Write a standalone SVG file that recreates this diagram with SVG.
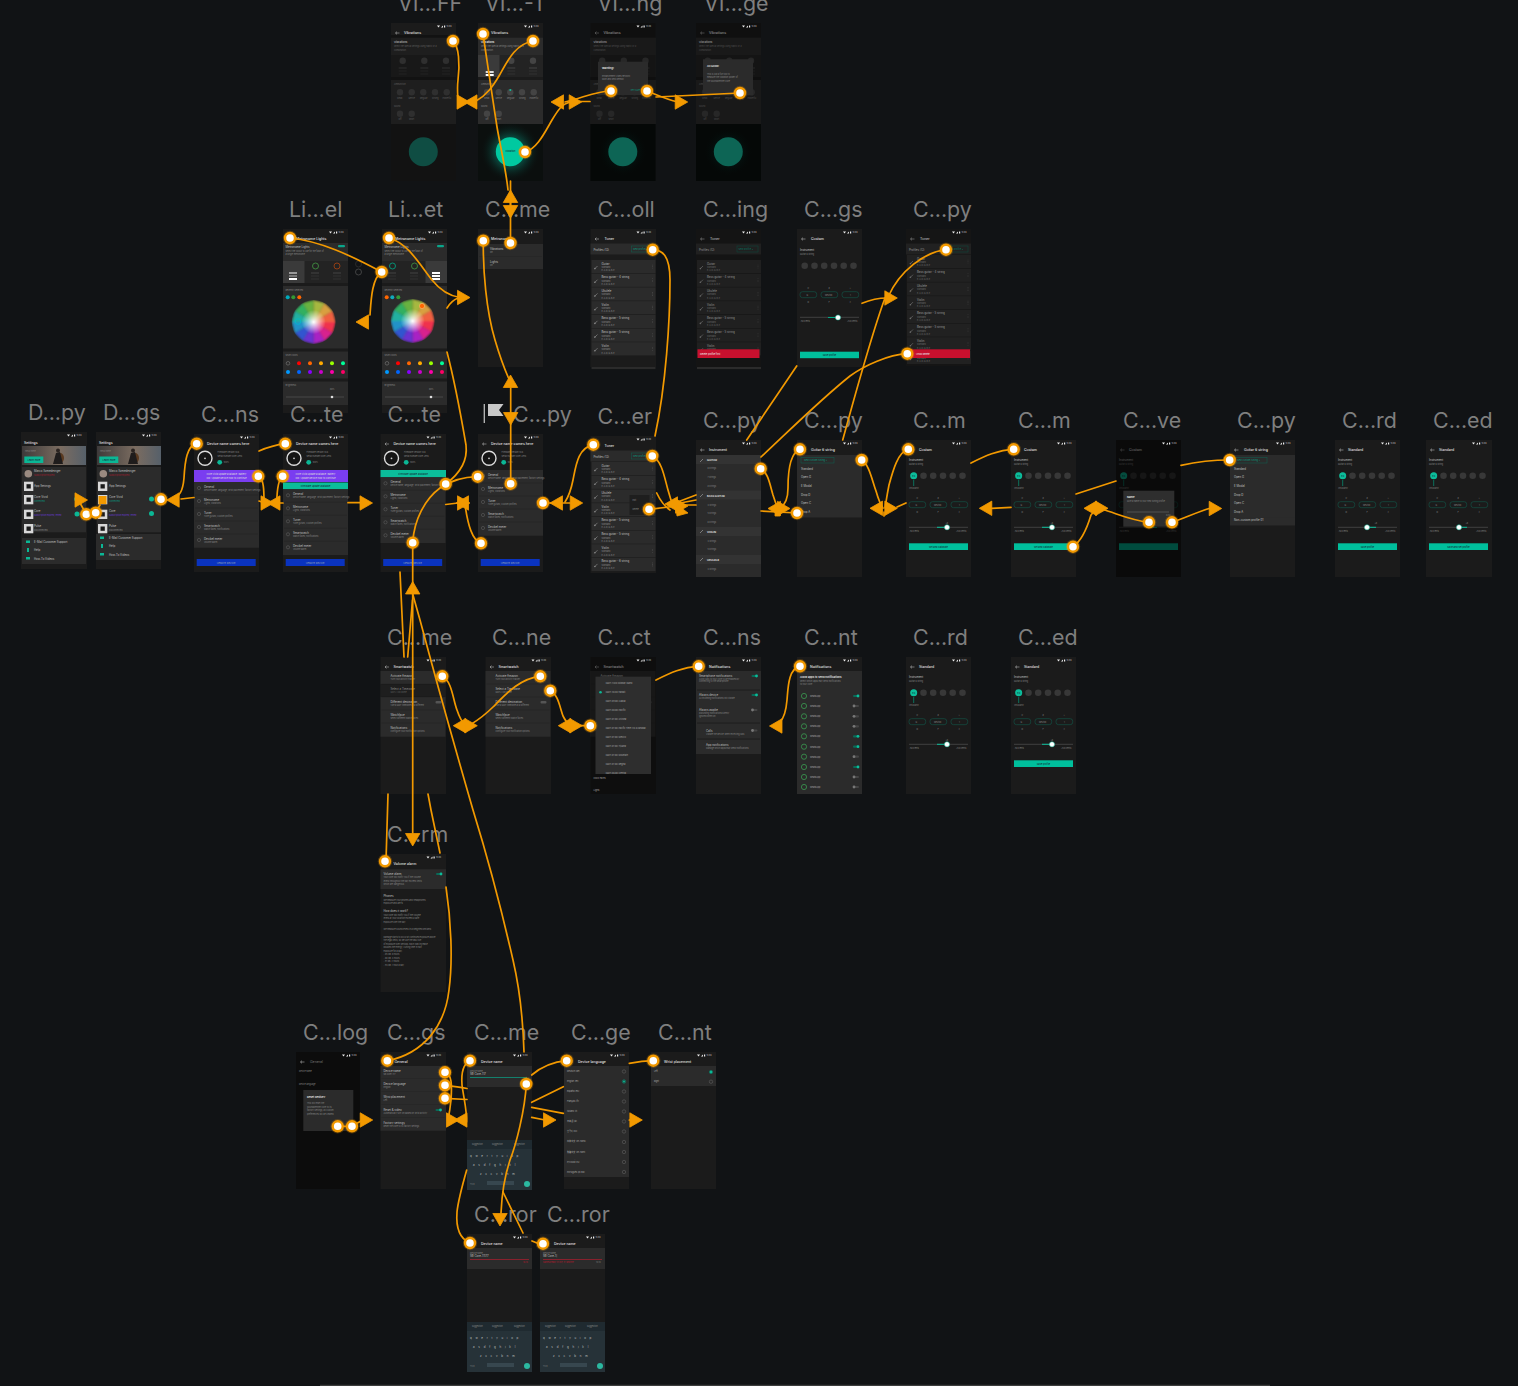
<svg xmlns="http://www.w3.org/2000/svg" width="1518" height="1386" viewBox="0 0 1518 1386">
<style>
text{font-family:Inter,"Liberation Sans","Noto Sans CJK SC",sans-serif}
.l{font-size:21.4px;fill:#7f7f7f}
.f{fill:#1b1b1b}.p{fill:#2b2b2b}.q{fill:#232323}
.t{font-size:3.5px;fill:#e2e2e2;font-weight:500}
.s{font-size:2.8px;fill:#c0c0c0}
.u{font-size:2.1px;fill:#858585}
.w{font-size:2.7px;fill:#eee;font-weight:600}
.b{font-size:2.4px;fill:#123;text-anchor:middle}
.bl{font-size:2.4px;fill:#9ab;text-anchor:middle}
.x{font-size:2px;fill:#ddd}
.c{fill:none;stroke:#f29900;stroke-width:1.7;stroke-linecap:round;stroke-linejoin:round}
.a{fill:#f29900;stroke:#f29900;stroke-width:.8;stroke-linejoin:round}
.d{fill:#fff;stroke:#f29900;stroke-width:2.4}
.h{fill:#f29900;opacity:.25}
.ln{stroke:#666;stroke-width:.5;fill:none}
.pill{fill:none;stroke:#11594b;stroke-width:.6}
.gc{fill:#444}
#tune .gc,#tune .gc circle{fill:#383838}
#c-ct .u,#c-ge .u,#c-nt2 .u,#ma .u{fill:#aaa}
.tog{fill:#0aa58a}.togo{fill:#555}
</style>
<defs>
<radialGradient id="wg"><stop offset="0" stop-color="#fff"/><stop offset=".55" stop-color="#fff" stop-opacity="0"/></radialGradient>
<radialGradient id="glow"><stop offset="0" stop-color="#0dcaa6" stop-opacity=".8"/><stop offset=".55" stop-color="#0a5d50" stop-opacity=".55"/><stop offset="1" stop-color="#0a0f0e" stop-opacity="0"/></radialGradient>
<radialGradient id="dglow"><stop offset="0" stop-color="#0a5d50" stop-opacity=".5"/><stop offset="1" stop-color="#000" stop-opacity="0"/></radialGradient>
<linearGradient id="ph" x1="0" x2="1"><stop offset="0" stop-color="#3d3a3a"/><stop offset=".6" stop-color="#7b6c60"/><stop offset="1" stop-color="#56606a"/></linearGradient>
<filter id="bl" x="-10%" y="-10%" width="120%" height="120%"><feGaussianBlur stdDeviation="1.2"/></filter>
<clipPath id="wc"><circle r="22"/></clipPath>
<polygon id="ar" class="a" points="0,0 -12.5,-7.2 -12.5,7.2"/>
<polygon id="al" class="a" points="0,0 12.5,-7.2 12.5,7.2"/>
<polygon id="au" class="a" points="0,0 -7.2,12.5 7.2,12.5"/>
<polygon id="ad" class="a" points="0,0 -7.2,-12.5 7.2,-12.5"/>
<g id="dt"><circle r="7.2" class="h"/><circle r="5" class="d"/></g>
<g id="st"><path d="M46 2.6h3l-1.5 2z M50 4.6l2-2v2z M53 2.4h1.2v2.2H53z" fill="#eee"/><text x="55.5" y="4.4" class="x">12:34</text></g>
<path id="bk" d="M4.5 10h4M4.5 10l1.5-1.4M4.5 10l1.5 1.4" fill="none" stroke="#ccc" stroke-width=".5"/>
<g id="wheel"><g clip-path="url(#wc)"><g filter="url(#bl)">
<path d="M0 0L22 0 19 11z" fill="#f0304e"/><path d="M0 0L19 11 11 19z" fill="#d8208e"/><path d="M0 0L11 19 0 22z" fill="#a824c4"/><path d="M0 0L0 22-11 19z" fill="#6a32d0"/><path d="M0 0L-11 19-19 11z" fill="#3354d0"/><path d="M0 0L-19 11-22 0z" fill="#2492c8"/><path d="M0 0L-22 0-19-11z" fill="#20b0a0"/><path d="M0 0L-19-11-11-19z" fill="#30b060"/><path d="M0 0L-11-19 0-22z" fill="#68b240"/><path d="M0 0L0-22 11-19z" fill="#a6b840"/><path d="M0 0L11-19 19-11z" fill="#d8a040"/><path d="M0 0L19-11 22 0z" fill="#f06040"/>
</g><circle r="22" fill="url(#wg)"/></g></g>
<g id="colors"><circle cx="0" cy="0" r="1.8" fill="none" stroke="#888" stroke-width=".5"/><circle cx="11" r="2" fill="#f00"/><circle cx="22" r="2" fill="#f60"/><circle cx="33" r="2" fill="#fa0"/><circle cx="44" r="2" fill="#9f0"/><circle cx="55" r="2" fill="#0f9"/><circle cy="8.7" r="2" fill="#09f"/><circle cx="11" cy="8.7" r="2" fill="#06f"/><circle cx="22" cy="8.7" r="2" fill="#80f"/><circle cx="33" cy="8.7" r="2" fill="#c0c"/><circle cx="44" cy="8.7" r="2" fill="#f0a"/><circle cx="55" cy="8.7" r="2" fill="#f06"/></g>
<g id="stack"><rect width="8" height="2" fill="#333"/><rect y="3" width="8" height="2" fill="#2a2a2a"/><rect y="6" width="8" height="2" fill="#2a2a2a"/></g>
<g id="lights"><rect x="0" y="14" width="65" height="18" class="p"/><text x="2.5" y="18.5" class="s">Metronome Lights</text><text x="2.5" y="23" class="u">Select the colour to use for the flash of</text><text x="2.5" y="26" class="u">a single metronome</text><rect x="55" y="16" width="7" height="2.2" rx="1" class="tog"/><rect y="32" width="65" height="22" class="q"/><g fill="none" stroke-width=".8"><circle cx="10.5" cy="37" r="3" stroke="#0a8"/><circle cx="32.5" cy="37" r="3" stroke="#494"/><circle cx="54" cy="37" r="3" stroke="#a41"/></g><use href="#stack" x="28" y="43"/><use href="#stack" x="50" y="43"/><use href="#stack" x="6" y="43"/><rect y="57" width="65" height="62.5" class="p"/><text x="2.5" y="62" class="u">Recently selected</text><rect y="122.5" width="65" height="27" class="p"/><text x="2.5" y="127" class="u">Shuel colors</text><use href="#colors" x="5" y="134.3"/><rect y="152.5" width="65" height="23.5" class="p"/><text x="2.5" y="157" class="u">Brightness</text><text x="47" y="161" class="u">80%</text><path d="M3 168H61" class="ln"/><circle cx="49" cy="168" r="1.3" fill="#ddd"/><text x="13" y="11" class="t">Metronome Lights</text></g>
<g id="vib"><use href="#bk"/><text x="13" y="11" class="t">Vibrations</text><rect y="14.7" width="65" height="17.3" class="p"/><text x="3" y="19.5" class="w">Vibrations</text><text x="3" y="24" class="u">Select the special settings using haptic or a</text><text x="3" y="27.5" class="u">combination.</text><rect y="32" width="65" height="22" class="q"/><circle cx="11.7" cy="37.7" r="3.2" class="gc"/><circle cx="33.3" cy="37.7" r="3.2" class="gc"/><circle cx="55" cy="37.7" r="3.2" class="gc"/><use href="#stack" x="7.7" y="44"/><use href="#stack" x="29.3" y="44"/><use href="#stack" x="51" y="44"/><rect y="57" width="65" height="44" class="p"/><text x="3" y="62" class="u">Ammunition</text><g class="gc"><circle cx="9" cy="69.3" r="3.2"/><circle cx="20.7" cy="69.3" r="3.2"/><circle cx="32.3" cy="69.3" r="3.2"/><circle cx="44" cy="69.3" r="3.2"/><circle cx="55.7" cy="69.3" r="3.2"/><circle cx="9" cy="90.7" r="3.2"/><circle cx="20.7" cy="90.7" r="3.2"/></g><text x="6" y="75.5" class="u">Weak</text><text x="17.5" y="75.5" class="u">Gentle</text><text x="29" y="75.5" class="u">Regular</text><text x="41" y="75.5" class="u">Strong</text><text x="51.5" y="75.5" class="u">Powerful</text><text x="3" y="84" class="u">Sound</text><text x="7.5" y="97" class="u">Off</text><text x="18" y="97" class="u">Short</text></g>
<g id="devtop"><use href="#bk"/><text x="13" y="11" class="t">Device name comes here</text><circle cx="11" cy="24.3" r="7" fill="#151515" stroke="#ddd" stroke-width="1.4"/><circle cx="11" cy="24.3" r=".9" fill="#ccc"/><text x="23.5" y="19" class="u">Firmware version 10.6</text><text x="23.5" y="22.5" class="u">Serial number Core-Lens</text><circle cx="25.7" cy="28.3" r="2.4" fill="#0bb795"/><text x="29.5" y="29" class="u">100%</text><rect x="2.7" y="125" width="59" height="7" fill="#0a33bf"/><text x="32" y="129.5" class="bl">UPDATE DEVICE</text></g>
<g id="devrows"><rect width="65" height="65.7" class="p"/><text x="10" y="5.5" class="s">General</text><text x="10" y="18.5" class="s">Metronome</text><text x="10" y="31.5" class="s">Tuner</text><text x="10" y="44.5" class="s">Smartwatch</text><text x="10" y="57.5" class="s">Decibel meter</text><text x="10" y="8.5" class="u">Device name, language, wrist placement, factory settings</text><text x="10" y="21.5" class="u">Lights, vibrations</text><text x="10" y="34.5" class="u">Tune guitars, custom profiles</text><text x="10" y="47.5" class="u">Watch faces, notifications</text><text x="10" y="60.5" class="u">Volume alarm</text><g fill="none" stroke="#666" stroke-width=".5"><circle cx="5" cy="6" r="1.6"/><circle cx="5" cy="19" r="1.6"/><circle cx="5" cy="32" r="1.6"/><circle cx="5" cy="45" r="1.6"/><circle cx="5" cy="58" r="1.6"/></g><path d="M1 13H64M1 26H64M1 39H64M1 52H64" stroke="#222" stroke-width=".4"/></g>
<g id="tr"><rect x="1" width="64" height="13.2" class="p"/><path d="M4 9l3-3" stroke="#888" stroke-width=".7"/><circle cx="4.4" cy="8.6" r=".8" fill="#888"/><circle cx="62" cy="5" r=".3" fill="#777"/><circle cx="62" cy="6.5" r=".3" fill="#777"/><circle cx="62" cy="8" r=".3" fill="#777"/><text x="11" y="8" class="u">Standard</text><text x="11" y="11.4" class="u">E-A-D-G-B-E</text></g>
<g id="tl"><use href="#tr"/><text x="11" y="4.5" class="s">Guitar</text><use href="#tr" y="13.7"/><text x="11" y="18.2" class="s">Bass guitar - 4 string</text><use href="#tr" y="27.4"/><text x="11" y="31.9" class="s">Ukulele</text><use href="#tr" y="41.1"/><text x="11" y="45.6" class="s">Violin</text><use href="#tr" y="54.8"/><text x="11" y="59.3" class="s">Bass guitar - 5 string</text><use href="#tr" y="68.5"/><text x="11" y="73" class="s">Bass guitar - 5 string</text><use href="#tr" y="82.2"/><text x="11" y="86.7" class="s">Violin</text><use href="#tr" y="95.9"/><text x="11" y="100.4" class="s">Bass guitar - 6 string</text></g>
<g id="ttop"><use href="#bk"/><text x="14" y="11" class="t">Tuner</text><rect y="14.5" width="65" height="11" class="p"/><text x="3" y="21.5" class="s">Profiles (12)</text><rect x="41" y="17" width="21" height="6" class="pill"/><text x="42.5" y="20.8" style="font-size:2.3px;fill:#0a9a80">New profile ▾</text></g>
<g id="tune"><text x="3" y="20.7" class="s">Instrument</text><text x="3" y="24.5" class="u">Guitar 6 string</text><g class="gc"><circle cx="7.7" cy="35.7" r="3.3"/><circle cx="17.5" cy="35.7" r="3.3"/><circle cx="27.2" cy="35.7" r="3.3"/><circle cx="37" cy="35.7" r="3.3"/><circle cx="46.7" cy="35.7" r="3.3"/><circle cx="56.5" cy="35.7" r="3.3"/></g><rect x="3" y="61.7" width="16.7" height="6" rx="2.5" class="pill"/><rect x="24" y="61.7" width="16.7" height="6" rx="2.5" class="pill"/><rect x="45" y="61.7" width="16.7" height="6" rx="2.5" class="pill"/><text x="9.5" y="65.6" class="u">G</text><text x="28" y="65.6" class="u">Neutral</text><text x="53" y="65.6" class="u">1</text><text x="10.5" y="58.5" class="u">C</text><text x="31.5" y="58.5" class="u">#</text><text x="52.5" y="58.5" class="u">+</text><text x="10.5" y="73" class="u">D</text><text x="31.5" y="73" class="u">F</text><text x="52.5" y="73" class="u">2</text><path d="M3 87.3H62" class="ln"/><text x="3" y="91.5" class="u">-50 Cents</text><text x="50" y="91.5" class="u">+50 Cents</text></g>
<g id="sel"><circle cx="7.7" cy="35.7" r="3.5" fill="#0bbd9a"/><text x="7.7" y="36.5" class="b">E4</text><path d="M7.7 40V46" stroke="#0a8" stroke-width=".6"/><text x="3" y="49.3" class="u">294.66Hz</text><rect x="31" y="86.8" width="10" height="1" fill="#0bbd9a"/><text x="39.5" y="84" class="u">+8</text></g>
<g id="knob"><circle r="2.6" fill="#fff" stroke="#0a8" stroke-width=".5"/></g>
<g id="glist"><rect y="15" width="65" height="62.5" class="p"/><rect x="4" y="17.5" width="33" height="5.5" class="pill"/><text x="7" y="21.2" style="font-size:2.3px;fill:#0a9a80">New custom tuning +</text><text x="4" y="29.5" class="s">Standard</text><text x="4" y="38" class="s">Open G</text><text x="4" y="46.8" class="s">E Modal</text><text x="4" y="55.5" class="s">Drop D</text><text x="4" y="64" class="s">Open C</text><text x="4" y="72.5" class="s">Drop A</text><text x="14" y="11" class="t">Guitar 6 string</text><use href="#bk"/></g>
<g id="sw"><use href="#bk"/><text x="13" y="11" class="t">Smartwatch</text><rect y="14" width="65" height="65.7" class="p"/><text x="10" y="19.5" class="s">Activate Amazon</text><text x="10" y="22.5" class="u">Turn your activity tracker</text><text x="10" y="32.5" class="s">Select a Timezone</text><text x="10" y="35.5" class="u">GMT+1:00 Rome</text><text x="10" y="45.5" class="s">Different destination</text><text x="10" y="48.5" class="u">Use a GMT timezone at a different</text><text x="10" y="58.5" class="s">Watchface</text><text x="10" y="61.5" class="u">Select different watch faces</text><text x="10" y="71.5" class="s">Notifications</text><text x="10" y="74.5" class="u">Configure your notification options</text><rect x="55" y="44" width="6" height="2.4" rx="1" class="togo"/><path d="M1 27H64M1 40H64M1 53H64M1 66H64" stroke="#222" stroke-width=".4"/></g>
<g id="ma"><circle cx="7" r="2.6" fill="none" stroke="#3a9a50" stroke-width=".8"/><text x="13" y="1" class="u">WhatsApp</text></g>
<g id="tg1"><rect x="-3" y="-1.1" width="6" height="2.2" rx="1" fill="#0a6a58"/><circle cx="2" r="1.4" fill="#0bbd9a"/></g>
<g id="tg0"><rect x="-3" y="-1.1" width="6" height="2.2" rx="1" fill="#444"/><circle cx="-2" r="1.4" fill="#777"/></g>
<g id="kb"><rect y="0" width="65" height="50" fill="#263238"/><rect width="65" height="9" fill="#1f2a30"/><text x="5" y="5" class="u">suggestion</text><text x="25" y="5" class="u">suggestion</text><text x="47" y="5" class="u">suggestion</text><text x="3" y="17" class="s" style="letter-spacing:3.7px">qwertyuiop</text><text x="6" y="26" class="s" style="letter-spacing:3.8px">asdfghjkl</text><text x="13" y="35" class="s" style="letter-spacing:3.8px">zxcvbnm</text><text x="3" y="45" class="u">?123</text><rect x="20" y="41" width="27" height="4" fill="#37474f"/><circle cx="60" cy="44" r="3" fill="#2bb8a0"/></g>
<g id="nm"><use href="#bk"/><text x="14" y="11" class="t">Device name</text><rect y="14" width="65" height="21" class="p"/><text x="3" y="19.5" class="u">Device name</text><use href="#kb" y="88"/></g>
<g id="settop"><text x="3" y="11.5" class="t">Settings</text><rect x="1" y="14" width="64" height="19" fill="url(#ph)"/><ellipse cx="39" cy="26" rx="4" ry="5" fill="#5a3a20"/><circle cx="37" cy="18.5" r="2" fill="#2a2320"/><path d="M32 32l3-11 4-1 3 12z" fill="#1f1c1c"/><rect x="3.3" y="24.5" width="19" height="6.5" fill="#0bb795"/><text x="13" y="28.5" class="b">Learn more</text><text x="4" y="20" class="u">Hello there</text><rect x="1" y="35" width="64" height="65.3" class="p"/><circle cx="7.3" cy="41.7" r="3.8" fill="#9a8a80"/><text x="13" y="40" class="s">Marco Szmedeinger</text><text x="13" y="43.5" style="font-size:2.1px;fill:#a02030">Subscription expired</text><text x="13" y="55" class="s">App Settings</text><text x="13" y="66" class="s">Core Vivid</text><text x="13" y="69.8" style="font-size:2.1px;fill:#0a9a80">Connected</text><text x="13" y="80" class="s">Core</text><text x="13" y="83.8" style="font-size:2.1px;fill:#6a3ad0">Subscription expired, renew</text><text x="13" y="95" class="s">Pulse</text><text x="13" y="98.5" class="u">Disconnected</text></g>
<g id="setbox"><rect width="9.3" height="9.3" fill="#d8d8d8"/><rect x="2.5" y="2.5" width="4.3" height="4.3" fill="#1a1a1a"/></g>
</defs>
<rect width="1518" height="1386" fill="#111315"/>
<path d="M320 1385.5H1270" stroke="#3c3c3c" stroke-width="1.5"/>

<g id="vi-ff" transform="translate(391,23)"><text x="7" y="-12" class="l">VI...FF</text><rect class="f" width="65" height="158"/><use href="#vib"/><rect y="12" width="65" height="146" fill="#000" opacity=".3"/><circle cx="32.3" cy="128.7" r="14.5" fill="#0f4d43"/><use href="#st"/></g>
<g id="vi-1" transform="translate(478,23)"><text x="7" y="-12" class="l">VI...-1</text><rect class="f" width="65" height="158"/><use href="#vib"/><rect x="0" y="32" width="21.5" height="22" fill="#3a3a3a"/><rect x="7.7" y="48" width="8" height="2" fill="#ddd"/><rect x="7.7" y="51" width="8" height="2" fill="#fff"/><circle cx="32.3" cy="67" r="1" fill="#0bbd9a"/><rect y="101" width="65" height="57" fill="#0b0f0e"/><circle cx="32.3" cy="128.7" r="30" fill="url(#glow)"/><circle cx="32.3" cy="128.7" r="14.5" fill="#00c9a0"/><text x="32.3" y="128.5" class="b">Vibration</text><use href="#st"/></g>
<g id="vi-ng" transform="translate(590.5,23)"><text x="7" y="-12" class="l">VI...ng</text><rect class="f" width="65" height="158"/><use href="#vib"/><rect width="65" height="158" fill="#000" opacity=".42"/><rect y="101" width="65" height="57" fill="#050807"/><circle cx="32.3" cy="128.7" r="26" fill="url(#dglow)"/><circle cx="32.3" cy="128.7" r="14.5" fill="#0d6555"/><rect x="7.5" y="38.7" width="50" height="33.3" fill="#2b2b2b"/><text x="11.5" y="46" class="w">Warning!</text><text x="11.5" y="53.5" class="u">Enhancement Vibes network</text><text x="11.5" y="57" class="u">soon and best/demos!</text><text x="40" y="68" style="font-size:2.1px;fill:#0a9a80">Very sure</text><use href="#st"/></g>
<g id="vi-ge" transform="translate(696,23)"><text x="8" y="-12" class="l">VI...ge</text><rect class="f" width="65" height="158"/><use href="#vib"/><rect width="65" height="158" fill="#000" opacity=".42"/><rect y="101" width="65" height="57" fill="#050807"/><circle cx="32.3" cy="128.7" r="26" fill="url(#dglow)"/><circle cx="32.3" cy="128.7" r="14.5" fill="#0d6555"/><rect x="7" y="36.3" width="50" height="36" fill="#2b2b2b"/><text x="11" y="44" class="w">All Good!</text><text x="11" y="51.5" class="u">This is just a fun tool to</text><text x="11" y="55" class="u">measure the vibration power of</text><text x="11" y="58.5" class="u">the Soundbrenner Core</text><use href="#st"/></g>

<g id="li-el" transform="translate(283,229)"><text x="6" y="-12" class="l">Li...el</text><rect class="f" width="65" height="184"/><use href="#lights"/><rect y="32" width="21.5" height="22" fill="#3a3a3a"/><rect x="6" y="43" width="8" height="2" fill="#999"/><rect x="6" y="46" width="8" height="2" fill="#777"/><rect x="6" y="49" width="8" height="2" fill="#fff"/><circle cx="4.7" cy="68.3" r="2" fill="#0ab"/><circle cx="10.3" cy="68.3" r="2" fill="#393"/><circle cx="16.3" cy="68.3" r="2" fill="#f60"/><use href="#wheel" x="30.7" y="93"/><circle cx="15" cy="92.5" r="2.8" fill="none" stroke="#0bc" stroke-width=".8"/><use href="#st"/></g>
<g id="li-icons"><circle cx="358.5" cy="264" r="3" fill="none" stroke="#333" stroke-width=".7"/><circle cx="358.5" cy="272" r="3" fill="none" stroke="#555" stroke-width=".7"/></g>
<g id="li-et" transform="translate(382,229)"><text x="6" y="-12" class="l">Li...et</text><rect class="f" width="65" height="184"/><use href="#lights"/><rect x="43.5" y="32" width="21.5" height="22" fill="#3a3a3a"/><rect x="50" y="43" width="8" height="2" fill="#fff"/><rect x="50" y="46" width="8" height="2" fill="#fff"/><rect x="50" y="49" width="8" height="2" fill="#fff"/><circle cx="4.7" cy="68.3" r="2" fill="#f60"/><circle cx="10.3" cy="68.3" r="2" fill="#1ab"/><circle cx="16.3" cy="68.3" r="2" fill="#393"/><use href="#wheel" x="30.7" y="92"/><circle cx="40" cy="77" r="2.6" fill="#f60" stroke="#fc8" stroke-width=".5"/><use href="#st"/></g>
<g id="c-me" transform="translate(478,229)"><text x="7" y="-12" class="l">C...me</text><rect class="f" width="65" height="138"/><use href="#bk"/><text x="13" y="11" class="t">Metronome</text><rect y="15" width="65" height="25" class="p"/><text x="12" y="20.5" class="s">Vibrations</text><text x="12" y="24" class="u">On</text><text x="12" y="33.5" class="s">Lights</text><text x="12" y="37" class="u">On</text><path d="M1 27.5H64" stroke="#222" stroke-width=".4"/><use href="#st"/></g>
<g id="c-oll" transform="translate(590.5,229)"><text x="7" y="-12" class="l">C...oll</text><rect class="f" width="65.5" height="138"/><use href="#ttop"/><use href="#tl" y="31"/><rect y="127" width="65.5" height="11" class="f"/><use href="#st"/></g>
<g id="c-ing" transform="translate(696,229)"><text x="7" y="-12" class="l">C...ing</text><rect class="f" width="65" height="138"/><use href="#ttop"/><use href="#tl" y="31"/><rect y="127" width="65" height="11" class="f"/><rect width="65" height="138" fill="#000" opacity=".25"/><rect x="1.5" y="120.3" width="62" height="8.7" fill="#c8102e"/><text x="4" y="125.5" style="font-size:2.4px;fill:#eee">Delete profile first</text><use href="#st"/></g>
<g id="c-gs" transform="translate(797,229)"><text x="7" y="-12" class="l">C...gs</text><rect class="f" width="65" height="138"/><use href="#bk"/><text x="14" y="11" class="t">Custom</text><use href="#tune" y="1"/><rect x="31" y="88" width="10" height="1" fill="#0a8"/><use href="#knob" x="41" y="88.5"/><rect x="3" y="122.7" width="59" height="6.5" fill="#00bf9c"/><text x="32.5" y="127" class="b">Save profile</text><use href="#st"/></g>
<g id="c-py5" transform="translate(906,229)"><text x="7" y="-12" class="l">C...py</text><rect class="f" width="65" height="137"/><use href="#ttop"/><use href="#tl" y="26"/><rect width="65" height="137" fill="#000" opacity=".22"/><rect x="1" y="120.3" width="63" height="8.7" fill="#c8102e"/><text x="10" y="125.5" style="font-size:2.4px;fill:#eee">Undo delete</text><use href="#st"/></g>

<g id="d-py" transform="translate(21,432)"><text x="7" y="-12" class="l">D...py</text><rect class="f" width="66" height="137"/><use href="#settop"/><use href="#setbox" x="3" y="49.7"/><use href="#setbox" x="3" y="63"/><use href="#setbox" x="3" y="77.7"/><use href="#setbox" x="3" y="92"/><circle cx="55.7" cy="67" r="2.5" fill="#0bb795"/><circle cx="56" cy="82" r="2.5" fill="#0bb795"/><rect x="1" y="106" width="64" height="26" class="p"/><rect x="5" y="108.5" width="4" height="2.5" fill="#0bb795"/><rect x="6" y="116" width="2" height="4" fill="#0bb795"/><rect x="5" y="125" width="4" height="2.5" fill="#0bb795"/><text x="13" y="110.5" class="s">E-Mail Customer Support</text><text x="13" y="119" class="s">Help</text><text x="13" y="127.5" class="s">How-To Videos</text><use href="#st"/></g>
<g id="d-gs" transform="translate(96,432)"><text x="7" y="-12" class="l">D...gs</text><rect class="f" width="65" height="137"/><use href="#settop"/><use href="#setbox" x="2" y="49.7"/><rect x="2" y="63" width="9.3" height="9.3" fill="#d8d8d8"/><rect x="2.5" y="64" width="8" height="8" fill="#f29900"/><use href="#setbox" x="2" y="77.7"/><use href="#setbox" x="2" y="92"/><circle cx="55.5" cy="67" r="2.5" fill="#0bb795"/><circle cx="55.5" cy="81.5" r="2.5" fill="#0bb795"/><rect x="0" y="102" width="65" height="26" class="p"/><rect x="4" y="104.5" width="4" height="2.5" fill="#0bb795"/><rect x="5" y="112" width="2" height="4" fill="#0bb795"/><rect x="4" y="121" width="4" height="2.5" fill="#0bb795"/><text x="13" y="106.5" class="s">E-Mail Customer Support</text><text x="13" y="115" class="s">Help</text><text x="13" y="123.5" class="s">How-To Videos</text><use href="#st"/></g>
<g id="c-ns" transform="translate(194,434)"><text x="7" y="-12" class="l">C...ns</text><rect class="f" width="65" height="138"/><use href="#devtop"/><rect y="36" width="65" height="12" fill="#7a3df0"/><text x="32.5" y="41" class="bl" style="fill:#ddd">Core vivid update available. Battery</text><text x="32.5" y="44.5" class="bl" style="fill:#ddd">low. Update device now to continue</text><use href="#devrows" y="48"/><use href="#st"/></g>
<g id="c-te1" transform="translate(283,434)"><text x="7" y="-12" class="l">C...te</text><rect class="f" width="65" height="138"/><use href="#devtop"/><rect y="36" width="65" height="12" fill="#7a3df0"/><text x="32.5" y="41" class="bl" style="fill:#ddd">Core vivid update available. Battery</text><text x="32.5" y="44.5" class="bl" style="fill:#ddd">low. Update device now to continue</text><rect y="48.5" width="65" height="6.8" fill="#0bbd9a"/><text x="32.5" y="52.8" class="b">Firmware update available</text><use href="#devrows" y="55.3"/><use href="#st"/></g>
<g id="c-te2" transform="translate(380.5,434)"><text x="7" y="-12" class="l">C...te</text><rect class="f" width="65.5" height="138"/><use href="#devtop"/><rect y="36" width="65.5" height="7.3" fill="#0bbd9a"/><text x="32.5" y="40.7" class="b">Firmware update available</text><use href="#devrows" y="43.3"/><use href="#st"/></g>
<g id="c-py1" transform="translate(478,434)"><text x="35" y="-12" class="l">C...py</text><path d="M6.3-30V-11" stroke="#bbb" stroke-width="1.3"/><path d="M10-30H25.5L21-24 25.5-18H10z" fill="#c8c8c8"/><rect class="f" width="65" height="138"/><use href="#devtop"/><use href="#devrows" y="36"/><use href="#st"/></g>
<g id="c-er" transform="translate(590.5,436)"><text x="7" y="-12" class="l">C...er</text><rect class="f" width="65.5" height="137"/><use href="#ttop"/><use href="#tl" y="26"/><rect x="39" y="59" width="20" height="20" fill="#1e1e1e"/><text x="42" y="65" class="u">Edit</text><text x="42" y="74" class="u">Delete</text><use href="#st"/></g>
<g id="c-py2" transform="translate(696,440)"><text x="7" y="-12" class="l">C...py</text><rect class="f" width="65" height="137"/><use href="#bk"/><text x="13" y="11" class="t">Instrument</text><rect y="15" width="65" height="122" class="p"/><rect y="15" width="65" height="9" fill="#333"/><rect y="50.5" width="65" height="9" fill="#333"/><rect y="87" width="65" height="9" fill="#333"/><rect y="115" width="65" height="9" fill="#333"/><text x="11" y="20.5" class="w">GUITAR</text><text x="11.5" y="29" class="u">6 strings</text><text x="11.5" y="38" class="u">7 strings</text><text x="11.5" y="46.5" class="u">8 strings</text><text x="11" y="56.5" class="w">BASS GUITAR</text><text x="11.5" y="65.5" class="u">4 strings</text><text x="11.5" y="74" class="u">5 strings</text><text x="11.5" y="82.5" class="u">6 strings</text><text x="11" y="93" class="w">VIOLIN</text><text x="11.5" y="102" class="u">4 strings</text><text x="11.5" y="110" class="u">5 strings</text><text x="11" y="121" class="w">UKULELE</text><text x="11.5" y="130" class="u">4 strings</text><path d="M4 22l3-3M4 57l3-3M4 93l3-3M4 121l3-3" stroke="#999" stroke-width=".7"/><use href="#st"/></g>
<g id="c-py3" transform="translate(797,440)"><text x="7" y="-12" class="l">C...py</text><rect class="f" width="65" height="137"/><use href="#glist"/><use href="#st"/></g>
<g id="c-m1" transform="translate(906,440)"><text x="7" y="-12" class="l">C...m</text><rect class="f" width="65" height="137"/><use href="#bk"/><text x="13" y="11" class="t">Custom</text><use href="#tune"/><use href="#sel"/><use href="#knob" x="41" y="87.3"/><rect x="3" y="103.3" width="59" height="6.7" fill="#00bf9c"/><text x="32.5" y="107.5" class="b">Set and calibrate</text><use href="#st"/></g>
<g id="c-m2" transform="translate(1011,440)"><text x="7" y="-12" class="l">C...m</text><rect class="f" width="65" height="137"/><use href="#bk"/><text x="13" y="11" class="t">Custom</text><use href="#tune"/><use href="#sel"/><use href="#knob" x="41" y="87.3"/><rect x="3" y="103.3" width="59" height="6.7" fill="#00bf9c"/><text x="32.5" y="107.5" class="b">Set and calibrate</text><use href="#st"/></g>
<g id="c-ve" transform="translate(1116,440)"><text x="7" y="-12" class="l">C...ve</text><rect class="f" width="65" height="137"/><use href="#bk"/><text x="13" y="11" class="t">Custom</text><use href="#tune"/><use href="#sel"/><rect x="3" y="103.3" width="59" height="6.7" fill="#00bf9c"/><rect width="65" height="137" fill="#000" opacity=".6"/><rect x="7.3" y="50.7" width="51" height="36" fill="#2e2e2e"/><text x="11" y="58" class="w">Name</text><text x="11" y="61.5" class="u">Give a name to your new tuning profile</text><path d="M11 72H53" stroke="#777" stroke-width=".5"/><text x="50" y="76" class="u">0/32</text><use href="#st"/></g>
<g id="c-py4" transform="translate(1230,440)"><text x="7" y="-12" class="l">C...py</text><rect class="f" width="65" height="137"/><rect y="15" width="65" height="70.5" class="p"/><use href="#glist"/><text x="4" y="81" class="s">Non-custom profile 01</text><use href="#st"/></g>
<g id="c-rd1" transform="translate(1335,440)"><text x="7" y="-12" class="l">C...rd</text><rect class="f" width="65" height="137"/><use href="#bk"/><text x="13" y="11" class="t">Standard</text><use href="#tune"/><use href="#sel"/><use href="#knob" x="32" y="87.3"/><rect x="3" y="103.3" width="59" height="6.7" fill="#00bf9c"/><text x="32.5" y="107.5" class="b">Save profile</text><use href="#st"/></g>
<g id="c-ed1" transform="translate(1426,440)"><text x="7" y="-12" class="l">C...ed</text><rect class="f" width="66" height="137"/><use href="#bk"/><text x="13" y="11" class="t">Standard</text><use href="#tune"/><use href="#sel"/><use href="#knob" x="33" y="87.3"/><rect x="3" y="103.3" width="59" height="6.7" fill="#00bf9c"/><text x="32.5" y="107.5" class="b">Save and set profile</text><use href="#st"/></g>

<g id="c-me2" transform="translate(380.5,657)"><text x="6.5" y="-12" class="l">C...me</text><rect class="f" width="65.5" height="137"/><use href="#sw"/><rect y="27" width="65" height="13" fill="#000" opacity=".3"/><use href="#st"/></g>
<g id="c-ne" transform="translate(485.5,657)"><text x="6.5" y="-12" class="l">C...ne</text><rect class="f" width="65.5" height="137"/><use href="#sw"/><use href="#st"/></g>
<g id="c-ct" transform="translate(590.5,657)"><text x="7" y="-12" class="l">C...ct</text><rect class="f" width="65.5" height="137"/><use href="#sw"/><rect width="65.5" height="137" fill="#000" opacity=".45"/><text x="3" y="122" class="u">Clock Faces</text><text x="3" y="134" class="u">Lights</text><rect x="5" y="19.7" width="55.5" height="97.3" fill="#2e2e2e"/><text x="15" y="27" class="u">(GMT-11:00) Midway Island</text><text x="15" y="36" class="u">(GMT-10:00) Hawaii</text><text x="15" y="45" class="u">(GMT-09:00) Alaska</text><text x="15" y="54" class="u">(GMT-08:00) Pacific</text><text x="15" y="63" class="u">(GMT-07:00) Arizona</text><text x="15" y="72" class="u">(GMT-07:00) Pacific Time (US &amp; Canada)</text><text x="15" y="81" class="u">(GMT-07:00) Mexico</text><text x="15" y="90" class="u">(GMT-07:00) Tijuana</text><text x="15" y="99" class="u">(GMT-07:00) Mountain</text><text x="15" y="108" class="u">(GMT-07:00) Regina</text><text x="15" y="116.5" class="u">(GMT-06:00) Central</text><circle cx="10" cy="35.3" r="1.3" fill="#0bb795"/><use href="#st"/></g>
<g id="c-ns2" transform="translate(696,657)"><text x="7" y="-12" class="l">C...ns</text><rect class="f" width="65" height="137"/><use href="#bk"/><text x="13" y="11" class="t">Notifications</text><rect y="14" width="65" height="83" class="p"/><text x="3" y="19.5" class="s">Smartphone notifications</text><text x="3" y="22.5" class="u">Allow calls to your Core to be enabled by</text><text x="3" y="25" class="u">connecting to the smartphone</text><use href="#tg1" x="58.5" y="19"/><text x="3" y="38.5" class="s">Always device</text><text x="3" y="41.5" class="u">All incoming notifications will vibrate</text><use href="#tg1" x="58.5" y="38"/><text x="3" y="54" class="s">Always awake</text><text x="3" y="57" class="u">Disturbing notifications silently</text><text x="3" y="60" class="u">ignored when on</text><use href="#tg0" x="58.5" y="53"/><text x="10" y="74.5" class="s">Calls</text><text x="10" y="77.5" class="u">Vibrate the device when receiving calls</text><use href="#tg0" x="58.5" y="73.5"/><text x="10" y="89" class="s">App notifications</text><text x="10" y="92" class="u">Manage which apps may send notifications</text><path d="M1 33H64M1 66H64M1 82H64" stroke="#1a1a1a" stroke-width=".8"/><use href="#st"/></g>
<g id="c-nt" transform="translate(797,657)"><text x="7" y="-12" class="l">C...nt</text><rect class="f" width="65" height="137"/><use href="#bk"/><text x="13" y="11" class="t">Notifications</text><rect y="14" width="65" height="123" class="p"/><text x="3" y="20.5" class="w">Allow apps to send notifications</text><text x="3" y="24.5" class="u">Select which apps may send notifications</text><text x="3" y="28" class="u">to your Core</text>
<use href="#ma" y="39"/><use href="#ma" y="49"/><use href="#ma" y="59.3"/><use href="#ma" y="69.3"/><use href="#ma" y="79.3"/><use href="#ma" y="89.7"/><use href="#ma" y="99.7"/><use href="#ma" y="110"/><use href="#ma" y="120"/><use href="#ma" y="130"/>
<use href="#tg1" x="59" y="39"/><use href="#tg0" x="59" y="49"/><use href="#tg0" x="59" y="59.3"/><use href="#tg0" x="59" y="69.3"/><use href="#tg1" x="59" y="79.3"/><use href="#tg1" x="59" y="89.7"/><use href="#tg0" x="59" y="99.7"/><use href="#tg1" x="59" y="110"/><use href="#tg0" x="59" y="120"/><use href="#tg0" x="59" y="130"/><use href="#st"/></g>
<g id="c-rd2" transform="translate(906,657)"><text x="7" y="-12" class="l">C...rd</text><rect class="f" width="65" height="137"/><use href="#bk"/><text x="13" y="11" class="t">Standard</text><use href="#tune"/><use href="#sel"/><use href="#knob" x="41" y="87.3"/><use href="#st"/></g>
<g id="c-ed2" transform="translate(1011,657)"><text x="7" y="-12" class="l">C...ed</text><rect class="f" width="65" height="137"/><use href="#bk"/><text x="13" y="11" class="t">Standard</text><use href="#tune"/><use href="#sel"/><use href="#knob" x="41" y="87.3"/><rect x="3" y="103.3" width="59" height="6.7" fill="#00bf9c"/><text x="32.5" y="107.5" class="b">Save profile</text><use href="#st"/></g>

<g id="c-rm" transform="translate(380.5,854)"><text x="6.5" y="-12" class="l">C...rm</text><rect class="f" width="65.5" height="138"/><use href="#bk"/><text x="13" y="11" class="t">Volume alarm</text><rect y="15.3" width="65.5" height="19.7" class="p"/><text x="3" y="20.5" class="s">Volume alarm</text><text x="3" y="24" class="u">Your Core will notify you if the volume</text><text x="3" y="27.5" class="u">levels throughout the day exceed limits</text><text x="3" y="31" class="u">which are dangerous</text><use href="#tg1" x="58.5" y="20"/><text x="3" y="43" class="s">Phones</text><text x="3" y="46.5" class="u">We measure your phones and headphones</text><text x="3" y="50" class="u">exposure and alerts</text><text x="3" y="58" class="s">How does it work?</text><text x="3" y="61.5" class="u">Your Core will notify you if the volume</text><text x="3" y="65" class="u">levels at your location exceed a safe</text><text x="3" y="68.5" class="u">exposure over the day</text><text x="3" y="76" class="u">We measure sound levels in a weighted decibels</text><text x="3" y="83.5" class="u">Damage starts to occur at continued exposure above</text><text x="3" y="87" class="u">the legal limits, so we use the dBA rule</text><text x="3" y="90.5" class="u">of exposure over periods. Each 3dB increase</text><text x="3" y="94" class="u">doubles the energy, cutting time in half</text><text x="3" y="97.5" class="u">exposure for a day:</text><text x="3" y="101" class="u">- 85 dB: 8 hours</text><text x="3" y="104.5" class="u">- 88 dB: 4 hours</text><text x="3" y="108" class="u">- 91 dB: 2 hours</text><text x="3" y="111.5" class="u">- 94 dB: 1 hour a day</text><use href="#st"/></g>

<g id="c-log" transform="translate(296,1052)"><text x="7" y="-12" class="l">C...log</text><rect width="64" height="137" fill="#0c0c0c"/><use href="#bk"/><text x="14" y="11" fill="#777" style="font-size:3.5px">General</text><text x="3" y="20" class="u">Device name</text><text x="3" y="33" class="u">Device language</text><rect x="7.3" y="38" width="50" height="41" fill="#2b2b2b"/><text x="11" y="45.5" class="w">Reset device?</text><text x="11" y="52" class="u">This will reset the</text><text x="11" y="55.5" class="u">Soundbrenner Core to its</text><text x="11" y="59" class="u">factory settings, all custom</text><text x="11" y="62.5" class="u">preferences will be cleared.</text><use href="#st"/></g>
<g id="c-gs2" transform="translate(380.5,1052)"><text x="6.5" y="-12" class="l">C...gs</text><rect class="f" width="65.5" height="137"/><use href="#bk"/><text x="14" y="11" class="t">General</text><rect y="14" width="65.5" height="64.7" class="p"/><text x="3" y="19.5" class="s">Device name</text><text x="3" y="23" class="u">SB Core-117</text><text x="3" y="32.5" class="s">Device language</text><text x="3" y="36" class="u">English</text><text x="3" y="45.5" class="s">Wrist placement</text><text x="3" y="49" class="u">Left</text><text x="3" y="58.5" class="s">Reset &amp; video</text><text x="3" y="62" class="u">Automatically turn on based on wrist activity</text><use href="#tg1" x="58" y="58"/><text x="3" y="71.5" class="s">Factory settings</text><text x="3" y="75" class="u">Reset the Core to its factory settings</text><path d="M1 26.5H64M1 39.5H64M1 52.5H64M1 65.5H64" stroke="#222" stroke-width=".4"/><use href="#st"/></g>
<g id="c-me3" transform="translate(467,1052)"><text x="7" y="-12" class="l">C...me</text><rect class="f" width="65" height="138"/><use href="#nm"/><text x="3" y="23" class="s">SB Core-117</text><path d="M3 25.5H60" stroke="#0aa58a" stroke-width=".7"/><use href="#st"/></g>
<g id="c-ge" transform="translate(564,1052)"><text x="7" y="-12" class="l">C...ge</text><rect class="f" width="65" height="137"/><use href="#bk"/><text x="14" y="11" class="t">Device language</text><rect y="14" width="65" height="111" class="p"/>
<text x="3" y="20" class="u">Deutsch (de)</text><text x="3" y="30" class="u">English (en)</text><text x="3" y="40" class="u">Español (es)</text><text x="3" y="50" class="u">Français (fr)</text><text x="3" y="60" class="u">Italiano (it)</text><text x="3" y="70" class="u">日本語 (ja)</text><text x="3" y="80" class="u">한국어 (ko)</text><text x="3" y="90.3" class="u">简体中文 (zh-Hans)</text><text x="3" y="100.5" class="u">繁體中文 (zh-Hant)</text><text x="3" y="110.5" class="u">Русский (ru)</text><text x="3" y="120.5" class="u">Português (pt-BR)</text>
<g fill="none" stroke="#666" stroke-width=".5"><circle cx="60" cy="19.5" r="1.7"/><circle cx="60" cy="29.5" r="1.7" stroke="#0a8"/><circle cx="60" cy="39.5" r="1.7"/><circle cx="60" cy="49.5" r="1.7"/><circle cx="60" cy="59.5" r="1.7"/><circle cx="60" cy="69.5" r="1.7"/><circle cx="60" cy="79.5" r="1.7"/><circle cx="60" cy="90" r="1.7"/><circle cx="60" cy="100" r="1.7"/><circle cx="60" cy="110" r="1.7"/><circle cx="60" cy="120" r="1.7"/></g><circle cx="60" cy="29.5" r="1" fill="#0bb795"/><use href="#st"/></g>
<g id="c-nt2" transform="translate(651,1052)"><text x="7" y="-12" class="l">C...nt</text><rect class="f" width="65" height="137"/><text x="13" y="11" class="t">Wrist placement</text><rect y="14" width="65" height="20" class="p"/><text x="3" y="20" class="u">Left</text><text x="3" y="30" class="u">Right</text><circle cx="60" cy="20" r="1.7" fill="#0bb795" stroke="#0a6a58" stroke-width=".4"/><circle cx="60" cy="29.7" r="1.7" fill="none" stroke="#666" stroke-width=".5"/><use href="#st"/></g>
<g id="c-or1" transform="translate(467,1234)"><text x="7" y="-12" class="l">C...ror</text><rect class="f" width="65" height="138"/><use href="#nm"/><text x="3" y="23" class="s">SB Core-11177</text><path d="M3 25.5H62" stroke="#b01c2e" stroke-width=".7"/><text x="56" y="29" style="font-size:2px;fill:#b01c2e">16/16</text><use href="#st"/></g>
<g id="c-or2" transform="translate(540,1234)"><text x="7" y="-12" class="l">C...ror</text><rect class="f" width="65" height="138"/><use href="#nm"/><text x="3" y="23" class="s">SB Core-1|</text><path d="M3 25.5H62" stroke="#b01c2e" stroke-width=".7"/><text x="3" y="28.5" style="font-size:2px;fill:#b01c2e">Name already in use, try another</text><text x="56" y="29" style="font-size:2px;fill:#777">10/16</text><use href="#st"/></g>

<g id="connectors">
<g class="c">
<path d="M453 41C459 46 460 65 458 80 457 88 457.5 92 458 100"/>
<path d="M533 41C515 44 507 62 499 76 493 86 487 95 476 101"/>
<path d="M483 34C487 60 492 95 497 127 501 150 506 170 508 190"/>
<path d="M525 152C537 149 545 132 552 120 558 110 562 104 570 102"/>
<path d="M611 91C597 91 585 97 565 102"/><path d="M570 101.5H590"/>
<path d="M647 91C655 94 665 99 678 102"/><path d="M740 93L656 97"/>
<path d="M510.5 181V208"/><path d="M510.5 243V202"/>
<path d="M290 238C320 241 350 255 381.7 272"/>
<path d="M381.7 272C372 278 371 300 370 315"/>
<path d="M389 238C408 243 420 265 432 280 440 290 450 296 460 297.5"/>
<path d="M447 308C450 303 453 300 458 298"/>
<path d="M447 352C453 375 460 410 466 445 468 462 458 475 445.7 484"/>
<path d="M477.7 476.7C462 477 450 481 440 488 425 499 414 520 412.7 542.7"/>
<path d="M412.7 543V833"/>
<path d="M400 572L404 657"/><path d="M428 794L431 810 440 853"/>
<path d="M446 887C451 920 453 960 449 990 445 1025 425 1053 387 1061"/>
<path d="M386 861L388 794"/><path d="M407.7 657L412.5 600"/>
<path d="M412.7 594L420 620C440 695 460 765 473 810 490 865 505 925 513 960 520 990 523 1020 524 1052"/>
<path d="M526.3 1084C525 1110 516 1145 510 1160 505 1175 502 1190 501 1213"/>
<path d="M503 1192L523 1233"/><path d="M532 1241L537 1243"/>
<path d="M470 1243C458 1238 456 1225 457 1212 458 1202 461 1190 466.7 1170"/>
<path d="M470 1060.7C463 1064 461 1072 462 1085 464 1100 467 1110 466.5 1122"/>
<path d="M445 1072.3C452 1074 452 1085 451 1100 450 1110 449 1115 448 1120"/>
<path d="M445 1085.3C452 1086 460 1087 467 1088.5"/><path d="M445 1098.3L467 1099.5"/>
<path d="M531.7 1075C540 1068 552 1062 566.7 1060.7"/>
<path d="M531.7 1102.3L563.3 1086.7"/><path d="M531.7 1107.3L563.3 1113.3"/><path d="M531.7 1117.3L545 1120"/>
<path d="M653.3 1060.7C645 1061 637 1062 629.3 1063.3"/><path d="M629.3 1120H632"/>
<path d="M337.7 1126.3H352"/><path d="M352 1126L361 1121"/>
<path d="M86.3 514.3L95.7 512.7"/><path d="M86.3 514.3L80 503"/><path d="M95.7 512.7L100 505"/>
<path d="M196.7 443.7C187 446 185 460 184 478 183 490 180 498 170 499.5"/><path d="M181 499L194 497.5"/>
<path d="M285.3 443.7C275 445 266 448 259 451"/>
<path d="M258.3 476.3C264 479 264 490 264 503"/><path d="M282.7 476.3C278 479 277 490 276.7 503"/>
<path d="M259 501L262 502"/><path d="M279 503H283"/><path d="M348 502.7H362"/>
<path d="M445.7 504.5L458 503"/><path d="M481 543.3C472 540 468 525 465 505"/>
<path d="M510.7 388V483.7"/>
<path d="M483.3 240.7C483 270 486 310 495 340 500 357 505 370 508.5 378"/>
<path d="M543 503H552"/><path d="M563 503H570"/>
<path d="M593.3 444.7C578 448 576 465 573 480 571 490 569 496 565 502"/>
<path d="M652.3 456C662 460 665 480 668 490 670 498 672 503 674 507"/>
<path d="M649 509.3L677 506"/><path d="M656.7 493C660 500 664 506 670 510"/>
<path d="M696 495L675 503"/><path d="M696 500L675 504"/><path d="M696 505L680 505"/>
<path d="M652.7 249.7C662 250 670 255 670 280 670 320 666 385 655 436"/>
<path d="M946 249.7C925 252 900 270 888 297"/><path d="M862 303.3C870 300 878 298 887 298"/>
<path d="M907.3 353.7C888 355 865 365 850 376 820 400 790 430 761 457"/>
<path d="M796.7 366L746.7 440"/><path d="M885 298C875 325 855 395 842.7 440"/>
<path d="M760.7 468.7C768 472 770 485 773 495 775 501 776 505 778 508"/>
<path d="M800 449.3C790 453 788 470 788 488 788 498 785 505 780 508"/><path d="M797 513L761 511"/>
<path d="M861.7 460C869 464 872 480 876 491 878 498 880 504 883 508"/>
<path d="M908.3 449.3C898 452 893 470 889 485 887 495 886 502 885 508"/><path d="M897 507L906 503"/>
<path d="M1013.7 449.3C998 450 985 456 971 463"/><path d="M991.7 508.3L1011 507.3"/><path d="M1076 494L1116 481"/>
<path d="M1073 546.7C1083 540 1088 525 1091 515L1096 509"/>
<path d="M1149 522.3C1130 520 1118 514 1103 509.5"/>
<path d="M1172 522.3C1185 518 1197 512 1210 508.3"/>
<path d="M1229.7 460C1212 460 1196 462 1181 465.3"/>
<path d="M442.3 676.3C452 681 453 700 457 710 459 716 461 721 465 725"/>
<path d="M540.3 676.3C520 678 505 695 493 707 485 715 478 720 470 725"/>
<path d="M550.3 690.7C558 694 560 708 563 716 565 720 567 723 570 725"/><path d="M590.3 725.7H575"/>
<path d="M698.7 666.3C683 667 670 673 656 680"/>
<path d="M800 666.3C788 668 788 690 787 700 786 712 784 718 780 722"/>
</g>
<use href="#ar" x="469.5" y="102"/><use href="#al" x="464.5" y="102"/><use href="#al" x="551" y="102"/><use href="#ar" x="581.7" y="102"/><use href="#ar" x="687.7" y="102"/>
<use href="#au" x="510.5" y="190"/><use href="#ad" x="510.5" y="218"/><use href="#al" x="356" y="322"/><use href="#ar" x="470" y="297.5"/><use href="#au" x="510.5" y="375"/><use href="#ad" x="510.7" y="425"/>
<use href="#ar" x="87.5" y="500"/><use href="#al" x="166.7" y="500"/><use href="#ar" x="273.5" y="503"/><use href="#al" x="267.5" y="503"/><use href="#ar" x="372.5" y="503"/><use href="#ar" x="470" y="503"/><use href="#al" x="456" y="503"/><use href="#al" x="550" y="503"/><use href="#ar" x="582.7" y="503"/>
<use href="#ar" x="688" y="506"/><use href="#al" x="665" y="504"/><polygon class="a" points="688,513 677,516 675,503"/>
<use href="#ar" x="897.3" y="298"/><use href="#al" x="768" y="508.5"/><use href="#ar" x="790" y="508.5"/><rect class="a" x="775" y="510" width="5" height="6"/><use href="#al" x="870" y="508.3"/><use href="#ar" x="897.3" y="508.3"/><path class="c" d="M884 512V516"/><use href="#al" x="979.3" y="508.3"/><use href="#al" x="1084" y="508.3"/><use href="#ar" x="1108" y="508.3"/><use href="#ar" x="1221.7" y="508.5"/>
<use href="#al" x="453.3" y="725.7"/><use href="#ar" x="477.3" y="725.7"/><use href="#al" x="558.3" y="725.7"/><use href="#ar" x="582.3" y="725.7"/><use href="#al" x="769.5" y="726"/>
<use href="#ad" x="412.7" y="846"/><use href="#au" x="412.7" y="581.5"/><use href="#ar" x="372.7" y="1120"/><use href="#ar" x="459" y="1120"/><use href="#al" x="454.5" y="1120"/><use href="#ar" x="556" y="1120"/><use href="#ar" x="642.3" y="1120"/><use href="#ad" x="500" y="1226"/>
<use href="#dt" x="453" y="41"/><use href="#dt" x="533" y="41"/><use href="#dt" x="483" y="34"/><use href="#dt" x="525" y="152"/><use href="#dt" x="611" y="91"/><use href="#dt" x="647" y="91"/><use href="#dt" x="740" y="93"/>
<use href="#dt" x="290" y="238"/><use href="#dt" x="381.7" y="272"/><use href="#dt" x="389" y="238"/><use href="#dt" x="483.3" y="240.7"/><use href="#dt" x="510.5" y="243"/><use href="#dt" x="652.7" y="249.7"/><use href="#dt" x="946" y="249.7"/><use href="#dt" x="907.3" y="353.7"/>
<use href="#dt" x="86.3" y="514.3"/><use href="#dt" x="95.7" y="512.7"/><use href="#dt" x="161" y="499.3"/><use href="#dt" x="196.7" y="443.7"/><use href="#dt" x="258.3" y="476.3"/><use href="#dt" x="282.7" y="476.3"/><use href="#dt" x="285.3" y="443.7"/><use href="#dt" x="445.7" y="484"/><use href="#dt" x="477.7" y="476.7"/><use href="#dt" x="412.7" y="542.7"/><use href="#dt" x="510.7" y="483.7"/><use href="#dt" x="543" y="503"/><use href="#dt" x="481" y="543.3"/><use href="#dt" x="593.3" y="444.7"/><use href="#dt" x="652.3" y="456"/><use href="#dt" x="649" y="509.3"/>
<use href="#dt" x="760.7" y="468.7"/><use href="#dt" x="800" y="449.3"/><use href="#dt" x="797" y="513"/><use href="#dt" x="861.7" y="460"/><use href="#dt" x="908.3" y="449.3"/><use href="#dt" x="1013.7" y="449.3"/><use href="#dt" x="1073" y="546.7"/><use href="#dt" x="1149" y="522.3"/><use href="#dt" x="1172" y="522.3"/><use href="#dt" x="1229.7" y="460"/>
<use href="#dt" x="442.3" y="676.3"/><use href="#dt" x="540.3" y="676.3"/><use href="#dt" x="550.3" y="690.7"/><use href="#dt" x="590.3" y="725.7"/><use href="#dt" x="698.7" y="666.3"/><use href="#dt" x="800" y="666.3"/><use href="#dt" x="385" y="861.3"/>
<use href="#dt" x="387.3" y="1060.7"/><use href="#dt" x="445" y="1072.3"/><use href="#dt" x="445" y="1085.3"/><use href="#dt" x="445" y="1098.3"/><use href="#dt" x="470" y="1060.7"/><use href="#dt" x="526.3" y="1084"/><use href="#dt" x="566.7" y="1060.7"/><use href="#dt" x="653.3" y="1060.7"/><use href="#dt" x="337.7" y="1126.3"/><use href="#dt" x="352" y="1126.3"/><use href="#dt" x="470" y="1243"/><use href="#dt" x="543" y="1243.7"/>
</g>
</svg>
